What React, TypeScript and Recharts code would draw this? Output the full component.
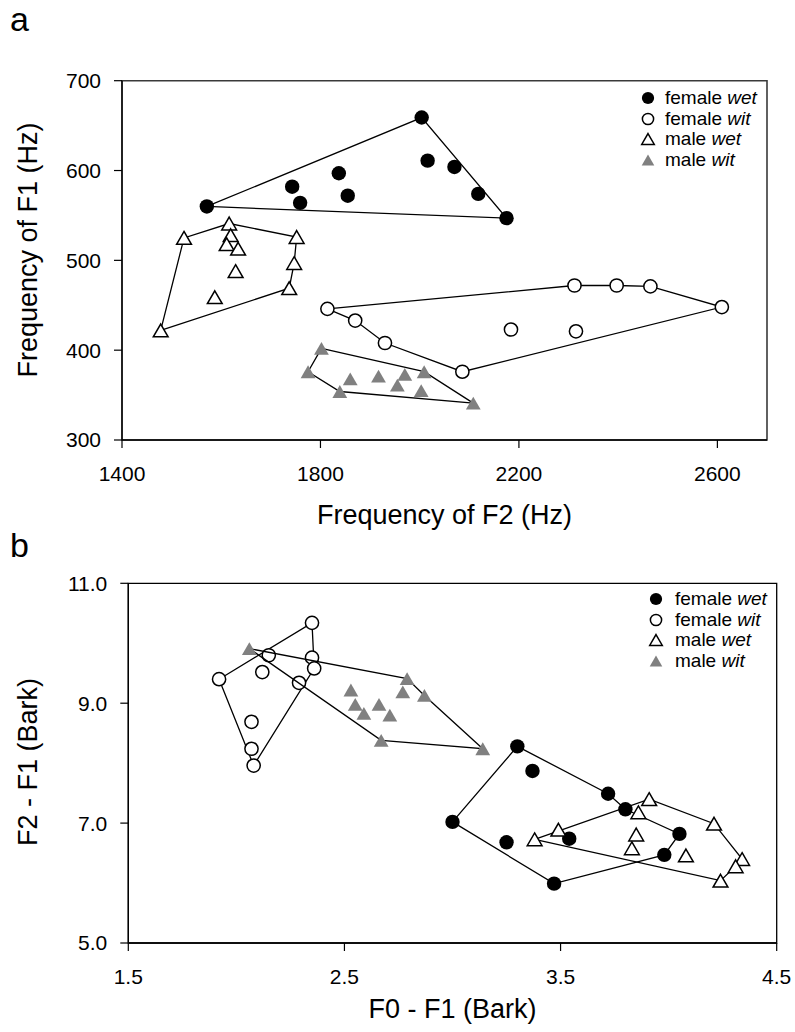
import { ScatterChart, Scatter, XAxis, YAxis, ReferenceArea, Legend } from 'recharts'

const FONT = '"Liberation Sans", Arial, sans-serif'

// panel a: F2 (x) and F1 (y), Hz
const aFemaleWetF2 = [1571, 1743, 1759, 1837, 1855, 2004, 2016, 2070, 2118, 2175]
const aFemaleWetF1 = [560, 582, 564, 597, 572, 659, 611, 604, 574, 547]
const aFemaleWetHull = [0, 5, 9, 0]

const aFemaleWitF2 = [1814, 1870, 1930, 2086, 2184, 2312, 2315, 2397, 2465, 2609]
const aFemaleWitF1 = [446, 433, 408, 376, 423, 472, 421, 472, 471, 448]
const aFemaleWitHull = [0, 5, 7, 8, 9, 3, 2, 1, 0]

const aMaleWetF2 = [1478, 1525, 1616, 1619, 1611, 1634, 1629, 1587, 1752, 1747, 1737]
const aMaleWetF1 = [422, 525, 541, 528, 518, 513, 488, 459, 526, 497, 469]
const aMaleWetHull = [0, 1, 2, 8, 9, 10, 0]

const aMaleWitF2 = [1802, 1775, 1839, 1860, 1917, 1955, 1970, 2009, 2003, 2108]
const aMaleWitF1 = [402, 376, 354, 368, 371, 361, 373, 376, 355, 341]
const aMaleWitHull = [0, 7, 9, 2, 1, 0]

const aXTicks = [1400, 1800, 2200, 2600]
const aYTicks = [300, 400, 500, 600, 700]

// panel b: F0 - F1 (x) and F2 - F1 (y), Bark
const bFemaleWetX = [3.30, 3.37, 3.72, 3.80, 3.00, 3.25, 3.54, 4.05, 3.98, 3.47]
const bFemaleWetY = [8.28, 7.87, 7.49, 7.23, 7.02, 6.68, 6.74, 6.82, 6.47, 5.99]
const bFemaleWetHull = [4, 0, 2, 3, 7, 8, 9, 4]

const bFemaleWitX = [2.35, 2.15, 2.35, 2.36, 2.12, 1.92, 2.29, 2.07, 2.07, 2.08]
const bFemaleWitY = [10.34, 9.80, 9.76, 9.58, 9.52, 9.40, 9.34, 8.69, 8.24, 7.96]
const bFemaleWitHull = [5, 0, 3, 9, 5]

const bMaleWetX = [3.91, 3.86, 4.21, 3.85, 3.83, 4.08, 4.34, 4.31, 4.24, 3.38, 3.49]
const bMaleWetY = [7.40, 7.18, 6.99, 6.81, 6.58, 6.46, 6.40, 6.28, 6.04, 6.73, 6.89]
const bMaleWetHull = [9, 0, 2, 6, 7, 8, 9]

const bMaleWitX = [2.06, 2.79, 2.77, 2.87, 2.53, 2.55, 2.66, 2.59, 2.71, 2.67, 3.14]
const bMaleWitY = [9.91, 9.41, 9.19, 9.13, 9.22, 8.98, 8.98, 8.83, 8.80, 8.38, 8.24]
const bMaleWitHull = [0, 1, 3, 10, 9, 0]

const bXTicks = [1.5, 2.5, 3.5, 4.5]
const bYTicks = [5, 7, 9, 11]

const seriesNames = [
  ['female', 'wet'],
  ['female', 'wit'],
  ['male', 'wet'],
  ['male', 'wit'],
]
const markerKinds = ['dot', 'ring', 'tri', 'grayTri']

const pts = (xs: number[], ys: number[]) => xs.map((x, i) => ({ x, y: ys[i] }))
const hull = (xs: number[], ys: number[], idx: number[]) => idx.map(i => ({ x: xs[i], y: ys[i] }))

function Marker({ kind, cx, cy, s = 1 }: { kind: string; cx: number; cy: number; s?: number }) {
  if (kind === 'dot') return <circle cx={cx} cy={cy} r={7.2 * s} fill="#000" />
  if (kind === 'ring') return <circle cx={cx} cy={cy} r={6.6 * s} fill="#fff" stroke="#000" strokeWidth={1.5} />
  const w = 7.4 * s
  const h = 6.4 * s
  const d = `M${cx},${cy - h} L${cx + w},${cy + h} L${cx - w},${cy + h} Z`
  if (kind === 'tri') return <path d={d} fill="#fff" stroke="#000" strokeWidth={1.5} strokeLinejoin="miter" />
  return <path d={d} fill="#808080" />
}

const noShape = () => <g />

function LegendBox({ gap }: { gap: number }) {
  return (
    <div style={{ fontFamily: FONT, fontSize: 19, color: '#000' }}>
      {seriesNames.map((n, i) => (
        <div key={i} style={{ display: 'flex', alignItems: 'center', height: 20.5, whiteSpace: 'nowrap' }}>
          <svg width={gap} height={18}>
            <Marker kind={markerKinds[i]} cx={8} cy={9} s={0.85} />
          </svg>
          <span>{n[0]} <i>{n[1]}</i></span>
        </div>
      ))}
    </div>
  )
}

function Panel({ width, height, margin, yWidth, xDomain, yDomain, xTicks, yTicks, fmt, sets, border, legendPos }: any) {
  return (
    <ScatterChart width={width} height={height} margin={margin} style={{ fontFamily: FONT }}>
      <ReferenceArea
        x1={xDomain[0]} x2={xDomain[1]} y1={yDomain[0]} y2={yDomain[1]}
        fill="none" stroke={border.color} strokeWidth={border.width} strokeOpacity={1} ifOverflow="visible"
      />
      <XAxis
        type="number" dataKey="x" domain={xDomain} ticks={xTicks} height={60}
        tickSize={8} tickMargin={18} interval={0}
        axisLine={{ stroke: '#000', strokeWidth: 1.3 }} tickLine={{ stroke: '#000', strokeWidth: 1.2 }}
        tick={{ fill: '#000', fontSize: 21, fontFamily: FONT }}
        tickFormatter={fmt.x}
      />
      <YAxis
        type="number" dataKey="y" domain={yDomain} ticks={yTicks} width={yWidth}
        tickSize={8} tickMargin={13} interval={0}
        axisLine={{ stroke: '#000', strokeWidth: 1.3 }} tickLine={{ stroke: '#000', strokeWidth: 1.2 }}
        tick={{ fill: '#000', fontSize: 21, fontFamily: FONT }}
        tickFormatter={fmt.y}
      />
      <Legend
        layout="horizontal" verticalAlign="middle" align="center"
        wrapperStyle={{ top: legendPos.top, left: legendPos.left, width: 'auto' }}
        content={() => <LegendBox gap={legendPos.gap} />}
      />
      {sets.map((s: any, i: number) => [
        <Scatter
          key={`h${i}`} data={s.hull} shape={noShape} legendType="none"
          line={{ stroke: '#000', strokeWidth: 1.3 }} lineType="joint" isAnimationActive={false}
        />,
        <Scatter
          key={`p${i}`} data={s.points} legendType="none" isAnimationActive={false}
          shape={(p: any) => <Marker kind={markerKinds[i]} cx={p.cx} cy={p.cy} />}
        />,
      ])}
    </ScatterChart>
  )
}

export default function App() {
  const setsA = [
    { points: pts(aFemaleWetF2, aFemaleWetF1), hull: hull(aFemaleWetF2, aFemaleWetF1, aFemaleWetHull) },
    { points: pts(aFemaleWitF2, aFemaleWitF1), hull: hull(aFemaleWitF2, aFemaleWitF1, aFemaleWitHull) },
    { points: pts(aMaleWetF2, aMaleWetF1), hull: hull(aMaleWetF2, aMaleWetF1, aMaleWetHull) },
    { points: pts(aMaleWitF2, aMaleWitF1), hull: hull(aMaleWitF2, aMaleWitF1, aMaleWitHull) },
  ]
  const setsB = [
    { points: pts(bFemaleWetX, bFemaleWetY), hull: hull(bFemaleWetX, bFemaleWetY, bFemaleWetHull) },
    { points: pts(bFemaleWitX, bFemaleWitY), hull: hull(bFemaleWitX, bFemaleWitY, bFemaleWitHull) },
    { points: pts(bMaleWetX, bMaleWetY), hull: hull(bMaleWetX, bMaleWetY, bMaleWetHull) },
    { points: pts(bMaleWitX, bMaleWitY), hull: hull(bMaleWitX, bMaleWitY, bMaleWitHull) },
  ]

  return (
    <div style={{ position: 'absolute', left: 0, top: 0, width: 795, height: 1032, background: '#fff', overflow: 'hidden' }}>
      <div style={{ position: 'absolute', left: 0, top: 0 }}>
        <Panel
          width={795} height={500} margin={{ top: 80.7, right: 28, bottom: 0, left: 0 }} yWidth={122}
          xDomain={[1400, 2700]} yDomain={[300, 700]} xTicks={aXTicks} yTicks={aYTicks}
          fmt={{ x: (v: number) => `${v}`, y: (v: number) => `${v}` }}
          sets={setsA} border={{ color: '#3a3a3a', width: 1.6 }} legendPos={{ top: 88, left: 640, gap: 25 }}
        />
      </div>
      <div style={{ position: 'absolute', left: 0, top: 520 }}>
        <Panel
          width={795} height={483} margin={{ top: 63.3, right: 18.3, bottom: 0, left: 0 }} yWidth={128.3}
          xDomain={[1.5, 4.5]} yDomain={[5, 11]} xTicks={bXTicks} yTicks={bYTicks}
          fmt={{ x: (v: number) => v.toFixed(1), y: (v: number) => v.toFixed(1) }}
          sets={setsB} border={{ color: '#000', width: 1.3 }} legendPos={{ top: 69, left: 648, gap: 27 }}
        />
      </div>
      <svg width={795} height={1032} style={{ position: 'absolute', left: 0, top: 0, pointerEvents: 'none', fontFamily: FONT }}>
        <text x={10} y={31} fontSize={34} fill="#000">a</text>
        <text x={10} y={557} fontSize={34} fill="#000">b</text>
        <text x={444.5} y={524} fontSize={27} textAnchor="middle" fill="#000">Frequency of F2 (Hz)</text>
        <text x={452.5} y={1018} fontSize={27} textAnchor="middle" fill="#000">F0 - F1 (Bark)</text>
        <text x={37} y={250} fontSize={27} textAnchor="middle" fill="#000" transform="rotate(-90 37 250)">Frequency of F1 (Hz)</text>
        <text x={37} y={762} fontSize={27} textAnchor="middle" fill="#000" transform="rotate(-90 37 762)">F2 - F1 (Bark)</text>
      </svg>
    </div>
  )
}
